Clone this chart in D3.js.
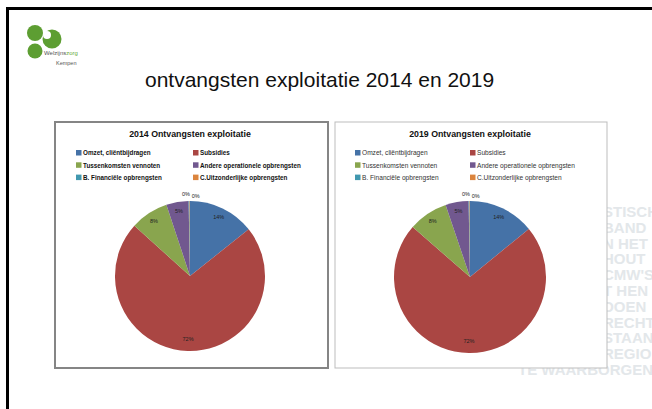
<!DOCTYPE html>
<html>
<head>
<meta charset="utf-8">
<script src="https://cdn.jsdelivr.net/npm/d3@7"></script>
<style>
  body { margin: 0; background: #fff; }
  text { font-family: "Liberation Sans", Arial, sans-serif; }
</style>
</head>
<body>
<script>
// data
var categories = [
    "Omzet, cliëntbijdragen",
    "Subsidies",
    "Tussenkomsten vennoten",
    "Andere operationele opbrengsten",
    "B. Financiële opbrengsten",
    "C.Uitzonderlijke opbrengsten"
];
var values2014 = [14.3, 72.4, 8.2, 4.8, 0.2, 0.1];
var values2019 = [14.1, 72.3, 8.4, 4.9, 0.2, 0.1];
var sliceColors = ["#4572a7", "#aa4643", "#89a54e", "#71588f", "#4198af", "#db843d"];
var watermarkLines = ["STISCH", "BAND", "N HET", "HOUT", "CMW'S", "T HEN", "DOEN", "RECHT", "STAAN", "REGIO"];

var svg = d3.select("body")
    .append("svg")
    .attr("width", 652)
    .attr("height", 409);

// faded watermark text on the right, mostly behind the right chart
var wm = svg.append("g")
    .style("fill", "#e3e7ea")
    .style("font-weight", "bold")
    .style("font-size", "15px")
    .style("font-family", "'DejaVu Sans Condensed', 'Liberation Sans Narrow', sans-serif");
wm.selectAll("text")
    .data(watermarkLines)
    .enter()
    .append("text")
    .attr("x", 603)
    .attr("y", function(d, i) { return 217 + i * 15.8; })
    .text(function(d) { return d; });
wm.append("text")
    .attr("x", 518)
    .attr("y", 375)
    .text("TE WAARBORGEN");

// slide frame
svg.append("path")
    .attr("d", "M7.5,409 V8.5 H652")
    .style("fill", "none")
    .style("stroke", "#000")
    .style("stroke-width", 3);

// logo
var logo = svg.append("g").attr("class", "logo");
logo.append("circle").attr("cx", 35).attr("cy", 33).attr("r", 8).style("fill", "#5d9e32");
logo.append("circle").attr("cx", 35).attr("cy", 51).attr("r", 7.5).style("fill", "#5d9e32");
logo.append("circle").attr("cx", 52).attr("cy", 39).attr("r", 9.5).style("fill", "#5d9e32");
logo.append("circle").attr("cx", 47).attr("cy", 35).attr("r", 4).style("fill", "#fff");
logo.append("text").attr("x", 44).attr("y", 55).style("font-size", "6px").style("fill", "#555")
    .text("Welzijns").append("tspan").style("fill", "#6aaa3a").text("zorg");
logo.append("text").attr("x", 56).attr("y", 65).style("font-size", "5.5px").style("fill", "#555").text("Kempen");

// slide title
svg.append("text")
    .attr("x", 145)
    .attr("y", 87)
    .style("font-size", "21px")
    .style("fill", "#111")
    .text("ontvangsten exploitatie 2014 en 2019");

function drawPie(opts) {
    var g = svg.append("g").attr("class", "chart");

    g.append("rect")
        .attr("x", opts.box[0])
        .attr("y", opts.box[1])
        .attr("width", opts.box[2])
        .attr("height", opts.box[3])
        .style("fill", "#fff")
        .style("stroke", opts.border)
        .style("stroke-width", opts.borderWidth);

    g.append("text")
        .attr("x", opts.cx)
        .attr("y", 137)
        .attr("text-anchor", "middle")
        .style("font-size", "8.8px")
        .style("font-weight", "bold")
        .style("fill", "#111")
        .text(opts.title);

    // legend in two columns
    var legend = g.selectAll(".legend")
        .data(categories)
        .enter()
        .append("g")
        .attr("class", "legend")
        .attr("transform", function(d, i) {
            var x = i % 2 === 0 ? opts.legendX[0] : opts.legendX[1];
            var y = 150 + Math.floor(i / 2) * 12.3;
            return "translate(" + x + "," + y + ")";
        });
    legend.append("rect")
        .attr("width", 5.5)
        .attr("height", 5.5)
        .style("fill", function(d, i) { return sliceColors[i]; });
    legend.append("text")
        .attr("x", 7)
        .attr("y", 5.3)
        .style("font-size", opts.legendSize)
        .style("font-weight", opts.legendWeight)
        .style("fill", opts.legendColor)
        .text(function(d) { return d; });

    var pie = d3.pie().sort(null).value(function(d) { return d; });
    var arcs = pie(opts.values);
    var arc = d3.arc().innerRadius(0).outerRadius(opts.r);
    var labelArc = d3.arc().innerRadius(opts.r * 0.88).outerRadius(opts.r * 0.88);
    var outerArc = d3.arc().innerRadius(opts.r + 5).outerRadius(opts.r + 5);

    var pg = g.append("g").attr("transform", "translate(" + opts.cx + "," + opts.cy + ")");
    pg.selectAll("path")
        .data(arcs)
        .enter()
        .append("path")
        .attr("d", arc)
        .style("fill", function(d, i) { return sliceColors[i]; });

    var fmt = d3.format(".0f");
    var smallCount = 0;
    pg.selectAll(".lbl")
        .data(arcs)
        .enter()
        .append("text")
        .attr("class", "lbl")
        .style("font-size", "5.5px")
        .style("fill", "#222")
        .each(function(d) {
            var t = d3.select(this);
            var p;
            if (d.data < 1) {
                // tiny slices: label just outside the rim, side by side
                p = outerArc.centroid(d);
                t.attr("text-anchor", smallCount === 0 ? "end" : "start")
                    .attr("x", smallCount === 0 ? p[0] + 1 : p[0] + 2)
                    .attr("y", p[1] + smallCount * 1.5);
                smallCount++;
            } else {
                p = labelArc.centroid(d);
                if (d.data > 50) p = [p[0] * 0.95, p[1] * 0.95];
                t.attr("text-anchor", "middle")
                    .attr("x", p[0])
                    .attr("y", p[1] + 2);
            }
            t.text(fmt(d.data) + "%");
        });
}

drawPie({
    title: "2014 Ontvangsten exploitatie",
    values: values2014,
    box: [55, 122, 273, 246],
    border: "#858585",
    borderWidth: 2,
    cx: 190,
    cy: 276,
    r: 75,
    legendX: [76, 193],
    legendSize: "6.3px",
    legendWeight: "bold",
    legendColor: "#111"
});

drawPie({
    title: "2019 Ontvangsten exploitatie",
    values: values2019,
    box: [335, 122, 272, 246],
    border: "#bdbdbd",
    borderWidth: 1,
    cx: 470,
    cy: 277,
    r: 76,
    legendX: [355, 470],
    legendSize: "6.6px",
    legendWeight: "normal",
    legendColor: "#333"
});
</script>
</body>
</html>
